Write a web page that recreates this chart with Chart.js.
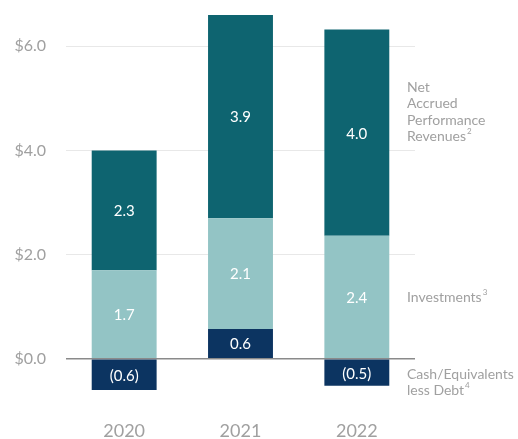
<!DOCTYPE html>
<html>
<head>
<meta charset="utf-8">
<script src="https://cdn.jsdelivr.net/npm/chart.js@4.4.0/dist/chart.umd.min.js"></script>
<style>
  html, body { margin: 0; padding: 0; background: #fff; overflow: hidden; }
  #wrap { width: 518px; height: 439px; position: relative; }
</style>
</head>
<body>
<div id="wrap"><canvas id="graph"></canvas></div>
<script>
"use strict";

// Daten (in Mrd. $)
const years = ["2020", "2021", "2022"];
const cash_less_debt = [-0.6, 0.57, -0.52];
const investments = [1.7, 2.13, 2.36];
const net_accrued = [2.3, 3.9, 3.96];
const y_ticks = [0, 2, 4, 6];

const series_names = ["Cash/Equivalents less Debt", "Investments", "Net Accrued Performance Revenues"];

// Beschriftungen rechts neben dem Diagramm
const side_labels = [
  { lines: ["Net", "Accrued", "Performance", "Revenues"], sup: "2", y: 87 },
  { lines: ["Investments"], sup: "3", y: 297 },
  { lines: ["Cash/Equivalents", "less Debt"], sup: "4", y: 374 },
];

const font_family = "Lato, 'Open Sans', sans-serif";
const grey_text = "#a0a0a0";

function format_value(v) {
  let txt = Math.abs(v).toFixed(1);
  return v < 0 ? "(" + txt + ")" : txt;
}

// Werte in die Balken schreiben
const bar_labels = {
  id: "bar_labels",
  afterDatasetsDraw(chart) {
    const ctx = chart.ctx;
    ctx.save();
    ctx.font = "15px " + font_family;
    ctx.textAlign = "center";
    ctx.textBaseline = "middle";
    chart.data.datasets.forEach((ds, i) => {
      const meta = chart.getDatasetMeta(i);
      meta.data.forEach((bar, j) => {
        const { x, y, base } = bar.getProps(["x", "y", "base"], true);
        ctx.fillStyle = ds.labelColor;
        ctx.fillText(format_value(ds.data[j]), x, (y + base) / 2 + 1);
      });
    });
    ctx.restore();
  },
};

// Legende als Text rechts
const side_legend = {
  id: "side_legend",
  afterDraw(chart) {
    const ctx = chart.ctx;
    const left = chart.chartArea.right - 8;
    ctx.save();
    ctx.fillStyle = grey_text;
    ctx.textAlign = "left";
    ctx.textBaseline = "middle";
    side_labels.forEach((entry) => {
      entry.lines.forEach((line, k) => {
        const y = entry.y + k * 16.5;
        ctx.font = "14px " + font_family;
        ctx.fillText(line, left, y);
        if (k === entry.lines.length - 1) {
          const w = ctx.measureText(line).width;
          ctx.font = "8px " + font_family;
          ctx.fillText(entry.sup, left + w + 1, y - 5);
        }
      });
    });
    ctx.restore();
  },
};

const config = {
  type: "bar",
  data: {
    labels: years,
    datasets: [
      {
        label: series_names[0],
        data: cash_less_debt,
        backgroundColor: "#0c3461",
        labelColor: "#ffffff",
      },
      {
        label: series_names[1],
        data: investments,
        backgroundColor: "#93c4c5",
        labelColor: "#ffffff",
      },
      {
        label: series_names[2],
        data: net_accrued,
        backgroundColor: "#0e6470",
        labelColor: "#ffffff",
      },
    ],
  },
  options: {
    responsive: true,
    maintainAspectRatio: false,
    animation: false,
    layout: { padding: { top: 15, right: 103, left: 0, bottom: 0 } },
    datasets: {
      bar: { barPercentage: 0.558, categoryPercentage: 1, borderWidth: 0 },
    },
    scales: {
      x: {
        stacked: true,
        grid: { display: false },
        border: { display: false },
        ticks: {
          color: grey_text,
          font: { family: font_family, size: 18 },
          padding: 22,
        },
        afterFit(scale) {
          scale.height = 49;
          scale.paddingLeft = 0;
          scale.paddingRight = 0;
        },
      },
      y: {
        stacked: true,
        min: -0.6,
        max: 6.6,
        border: { display: false },
        grid: {
          drawTicks: false,
          color: (c) => (c.tick && c.tick.value === 0 ? "#8a8a8a" : "#e8e8e8"),
          lineWidth: (c) => (c.tick && c.tick.value === 0 ? 1.5 : 1),
        },
        afterBuildTicks(scale) {
          scale.ticks = y_ticks.map((v) => ({ value: v }));
        },
        ticks: {
          color: grey_text,
          font: { family: font_family, size: 16 },
          padding: 20,
          callback: (value) => "$" + Number(value).toFixed(1),
        },
        afterFit(scale) {
          scale.width = 66;
          scale.paddingTop = 0;
          scale.paddingBottom = 0;
        },
      },
    },
    plugins: {
      legend: { display: false },
      tooltip: { enabled: false },
    },
  },
  plugins: [bar_labels, side_legend],
};

new Chart(document.getElementById("graph"), config);
</script>
</body>
</html>
